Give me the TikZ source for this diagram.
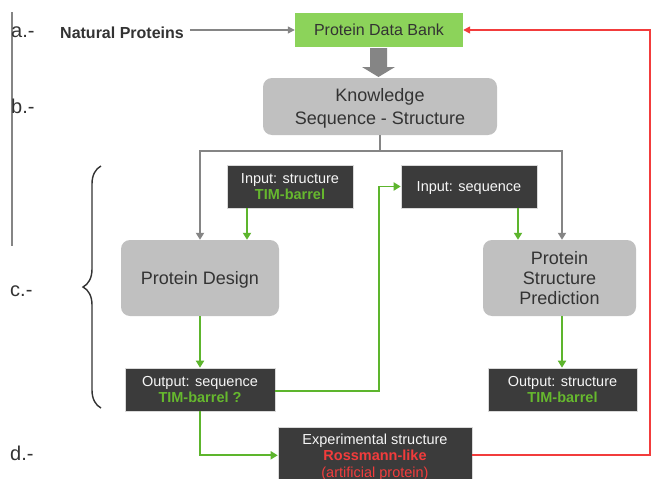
\documentclass[tikz,border=0pt]{standalone}
\usepackage{fontspec}
\setmainfont{Liberation Sans}
\usetikzlibrary{arrows.meta,decorations.pathreplacing}
\definecolor{pdbgreen}{HTML}{8CD35A}
\definecolor{boxgray}{HTML}{C0C0C0}
\definecolor{darkbox}{HTML}{3B3B3B}
\definecolor{tgreen}{HTML}{66B82E}
\definecolor{agreen}{HTML}{5DB52D}
\definecolor{cred}{HTML}{F23C3C}
\definecolor{cgray}{HTML}{858585}
\definecolor{txt}{HTML}{333333}
\newcommand{\fs}[2]{\fontsize{#1}{#2}\selectfont}
\begin{document}
\begin{tikzpicture}[x=1pt,y=-1pt,
  graybox/.style={fill=boxgray,rounded corners=9pt,text=txt,align=center,inner sep=0pt,text depth=-2pt,font=\fs{18}{23}},
  darkbox/.style={fill=darkbox,draw=white!70!gray,line width=0.6pt,text=white!93!gray,align=center,inner sep=0pt,text depth=-1pt,font=\fs{14.5}{16.5}},
  lbl/.style={anchor=base west,inner sep=0pt,text=txt,font=\fs{20}{24}},
  garrow/.style={draw=agreen,line width=1.8pt,-{Triangle[length=7pt,width=8pt]}},
  grayarrow/.style={draw=cgray,line width=1.8pt,-{Triangle[length=7pt,width=8pt]}},
  redarrow/.style={draw=cred,line width=1.4pt,-{Triangle[length=7pt,width=7pt]}}]
\useasboundingbox[fill=white] (0,0) rectangle (651,479);

% labels
\draw[cgray,line width=1.2pt] (12,12) -- (12,246);
\node[lbl] (la) at (11,37) {a.-};
\node[lbl] (lb) at (11,113) {b.-};
\node[lbl] (lc) at (10,296) {c.-};
\node[lbl] (ld) at (10,460) {d.-};
\node[anchor=base west,inner sep=0pt,text=txt,font=\bfseries\fs{16}{19}] (nat) at (60,38) {Natural Proteins};

% boxes
\node[fill=pdbgreen,minimum width=168pt,minimum height=34pt,inner sep=0pt,text depth=-1pt,text=txt,font=\fs{16}{19}] (pdb) at (379,30) {Protein Data Bank};
\node[graybox,minimum width=234pt,minimum height=57pt] (know) at (380,106.5) {Knowledge\\Sequence - Structure};
\node[darkbox,minimum width=126pt,minimum height=43pt] (instr) at (290,186.5) {Input: structure\\{\color{tgreen}\bfseries TIM-barrel}};
\node[darkbox,minimum width=136pt,minimum height=43pt] (inseq) at (469,186.5) {Input: sequence};
\node[graybox,minimum width=158pt,minimum height=76pt,text depth=-4pt] (pd) at (200,278) {Protein Design};
\node[graybox,minimum width=153pt,minimum height=76pt,font=\fs{18}{20}] (psp) at (559.5,278) {Protein\\Structure\\Prediction};
\node[darkbox,minimum width=150pt,minimum height=43pt,text depth=-2pt] (outseq) at (200,389.5) {Output: sequence\\{\color{tgreen}\bfseries TIM-barrel ?}};
\node[darkbox,minimum width=149pt,minimum height=43pt,text depth=-2pt] (outstr) at (562.5,389.5) {Output: structure\\{\color{tgreen}\bfseries TIM-barrel}};
\node[darkbox,minimum width=194pt,minimum height=56pt,anchor=north] (exp) at (375,427) {Experimental structure\\{\color{cred}\bfseries Rossmann-like}\\{\color{cred}(artificial protein)}};

% arrows
\draw[cgray,line width=1.2pt,-{Triangle[length=7pt,width=7pt]}] (nat.east |- pdb.west) ++(6,0) -- (pdb.west);
\fill[cgray] (370,48) -- (387,48) -- (387,67) -- (395,67) -- (378.5,77) -- (362,67) -- (370,67) -- cycle;

\coordinate (split) at (380,151);
\draw[cgray,line width=1.8pt] (know.south -| split) -- (split);
\draw[grayarrow] (split) -| (pd.north);
\draw[grayarrow] (split) -| (psp.north -| 562,0);

\draw[garrow] (instr.south -| 247,0) -- (pd.north -| 247,0);
\draw[garrow] (inseq.south -| 518,0) -- (psp.north -| 518,0);
\draw[garrow] (pd.south) -- (outseq.north);
\draw[garrow] (psp.south -| 562,0) -- (outstr.north -| 562,0);
\coordinate (gturn) at (379,391);
\draw[garrow] (outseq.east |- gturn) -- (gturn) |- (inseq.west);
\draw[garrow] (outseq.south) |- (exp.west);

\coordinate (rturn) at (650,455);
\draw[redarrow] (exp.east |- rturn) -- (rturn) |- (pdb.east);

% brace
\draw[txt,line width=1.4pt,decorate,decoration={brace,amplitude=18pt,aspect=0.5}] (101,408) -- (101,166);
\end{tikzpicture}
\end{document}
